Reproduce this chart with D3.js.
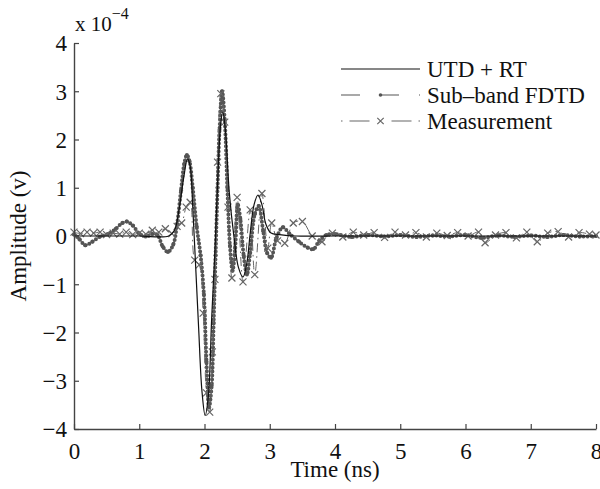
<!DOCTYPE html>
<html lang="en">
<head>
<meta charset="UTF-8">
<title>Amplitude vs time</title>
<script src="https://cdnjs.cloudflare.com/ajax/libs/d3/7.8.5/d3.min.js"></script>
<style>
*{margin:0;padding:0;box-sizing:border-box}
body{background:#fff;width:600px;height:489px;overflow:hidden}
svg{display:block}
</style>
</head>
<body>
<div id="chart"></div>
<script>
// values in units of 1e-4 V, time in ns
const utdT = [0,0.5,1.0,1.45,1.54,1.61,1.68,1.74,1.78,1.82,1.86,1.91,1.96,2.01,2.06,2.11,2.16,2.21,2.25,2.28,2.32,2.38,2.45,2.52,2.59,2.65,2.70,2.76,2.82,2.88,2.94,3.02,3.15,3.4,4,8];
const utdV = [0,0,0,0,0.12,0.55,1.2,1.6,1.45,0.6,-0.5,-1.9,-3.2,-3.72,-3.3,-1.7,-0.3,1.4,2.35,2.57,2.2,0.9,0,-0.65,-0.85,-0.55,0.05,0.65,0.85,0.65,0.25,0.06,0.03,0,0,0];

const fdtdT = [0,0.08,0.17,0.28,0.40,0.52,0.64,0.74,0.81,0.90,1.00,1.10,1.20,1.28,1.36,1.44,1.52,1.58,1.64,1.69,1.73,1.77,1.82,1.88,1.94,1.99,2.03,2.07,2.11,2.14,2.17,2.20,2.23,2.27,2.31,2.35,2.39,2.43,2.47,2.51,2.55,2.60,2.65,2.70,2.77,2.83,2.90,2.96,3.02,3.10,3.20,3.30,3.45,3.58,3.67,3.76,3.87,4.0,4.25,4.5,4.75,5.0,5.25,5.5,5.75,6.0,6.25,6.5,6.75,7.0,7.25,7.5,7.75,8.0];
const fdtdV = [0.03,-0.06,-0.19,-0.12,-0.01,0.04,0.15,0.27,0.30,0.22,0.05,-0.01,0.04,0.02,-0.22,-0.33,-0.18,0.25,0.95,1.5,1.68,1.55,1.0,0.2,-0.4,-1.2,-2.6,-3.55,-3.1,-1.8,-0.4,1.0,2.2,3.0,2.4,1.0,-0.2,-0.72,-0.25,0.65,0.35,-0.4,-0.8,-0.35,0.45,0.62,0.1,-0.35,-0.45,-0.05,0.18,0.05,-0.12,-0.24,-0.27,-0.1,0.02,0.04,-0.02,0.02,-0.01,0.02,-0.02,0.01,-0.01,0.02,-0.04,0.01,-0.02,0.01,-0.02,0.02,-0.01,0];

const measT = [0,0.1,0.2,0.3,0.4,0.5,0.6,0.7,0.8,0.9,1.0,1.1,1.2,1.3,1.4,1.5,1.58,1.65,1.72,1.78,1.85,1.92,1.98,2.03,2.08,2.12,2.16,2.2,2.25,2.31,2.36,2.42,2.5,2.59,2.7,2.77,2.88,2.97,3.03,3.12,3.23,3.36,3.5,3.65,3.8,3.96,4.12,4.28,4.44,4.6,4.76,4.92,5.08,5.24,5.4,5.56,5.72,5.88,6.04,6.2,6.3,6.46,6.62,6.78,6.94,7.1,7.26,7.42,7.58,7.74,7.9,8.0];
const measV = [0.08,0.05,0.08,0.06,0.08,0.03,0.06,0.04,0.08,0.03,0.06,0.04,0.12,0.08,0.15,0.05,0.2,0.27,0.6,0.7,-0.5,-0.6,-1.6,-3.25,-3.65,-2.4,-0.9,1.53,2.95,2.36,0.6,-0.87,0.8,-0.95,0.54,-0.8,0.88,-0.25,0.27,-0.1,-0.15,0.27,0.3,0,-0.12,0.06,-0.02,0.08,0.02,0.07,-0.03,0.08,0.02,0.07,-0.02,0.06,0.01,0.07,0,0.08,-0.14,0.02,0.07,-0.04,0.08,-0.12,0.06,0.09,-0.02,0.07,0.04,0.02];

const xTicks = [0,1,2,3,4,5,6,7,8];
const yTicks = [-4,-3,-2,-1,0,1,2,3,4];
const legendNames = ["UTD + RT","Sub\u2013band FDTD","Measurement"];

const FONT='"Liberation Serif"';
const W=600,H=489,mg={t:43,r:4,b:60,l:74};
const x=d3.scaleLinear().domain([0,8]).range([mg.l,W-mg.r]);
const y=d3.scaleLinear().domain([-4,4]).range([H-mg.b,mg.t]);
const svg=d3.select('#chart').append('svg').attr('width',W).attr('height',H);

const zip=(T,V)=>T.map((t,i)=>({t,v:V[i]}));
const utd=zip(utdT,utdV),fdtd=zip(fdtdT,fdtdV),meas=zip(measT,measV);
const line=d3.line().x(d=>x(d.t)).y(d=>y(d.v)).curve(d3.curveCatmullRom.alpha(0.5));

const g=svg.append('g');
// FDTD: dashed line with dense dot markers
g.append('path').attr('d',line(fdtd)).attr('fill','none').attr('stroke','#555').attr('stroke-width',1).attr('stroke-dasharray','10 6');
g.append('path').attr('d',line(fdtd)).attr('fill','none').attr('stroke','#555').attr('stroke-width',4)
  .attr('stroke-linecap','round').attr('stroke-dasharray','0 4');
g.selectAll('.fd').data(fdtd).join('circle').attr('cx',d=>x(d.t)).attr('cy',d=>y(d.v)).attr('r',2).attr('fill','#555');

// Measurement: dash-dot with x markers
g.append('path').attr('d',line(meas)).attr('fill','none').attr('stroke','#666').attr('stroke-width',1).attr('stroke-dasharray','9 4 1.5 4');
const cross=(sel,s)=>sel.append('path').attr('d',`M${-s},${-s}L${s},${s}M${-s},${s}L${s},${-s}`).attr('stroke','#666').attr('stroke-width',1.2).attr('fill','none');
g.selectAll('.ms').data(meas).join('g').attr('transform',d=>`translate(${x(d.t)},${y(d.v)})`).call(cross,3.5);

// UTD + RT: thin solid black
g.append('path').attr('d',line(utd)).attr('fill','none').attr('stroke','#111').attr('stroke-width',1.2);

// axes
const ax=svg.append('g').attr('transform',`translate(0,${H-mg.b})`)
  .call(d3.axisBottom(x).tickValues(xTicks).tickFormat(d3.format('d')).tickSizeInner(-5).tickSizeOuter(0).tickPadding(14));
const ay=svg.append('g').attr('transform',`translate(${mg.l},0)`)
  .call(d3.axisLeft(y).tickValues(yTicks).tickFormat(d3.format('d')).tickSizeInner(-5).tickSizeOuter(0).tickPadding(7));
[ax,ay].forEach(a=>{
  a.select('.domain').attr('stroke','#444').attr('stroke-width',1.4);
  a.selectAll('.tick line').attr('stroke','#444').attr('stroke-width',1.2);
  a.selectAll('.tick text').style('font-family',FONT).style('font-size','23px').attr('fill','#111')});
ay.selectAll('.tick text').attr('dy','0.34em');

const txt=(sel,size)=>sel.style('font-family',FONT).style('font-size',size+'px').attr('fill','#111');
svg.append('text').attr('x',(mg.l+W-mg.r)/2).attr('y',477).attr('text-anchor','middle').call(txt,23).text('Time (ns)');
svg.append('text').attr('transform',`translate(26,${y(0)}) rotate(-90)`).attr('text-anchor','middle').call(txt,23).text('Amplitude (v)');
const ex=svg.append('text').attr('x',75).attr('y',31).call(txt,21);
ex.append('tspan').text('x 10');
ex.append('tspan').attr('dy',-12).style('font-size','16px').text('\u22124');

// legend
const lg=svg.append('g');
const ly=[69,95,121],lx0=341,lx1=420;
lg.append('line').attr('x1',lx0).attr('x2',lx1).attr('y1',ly[0]).attr('y2',ly[0]).attr('stroke','#111').attr('stroke-width',1.2);
lg.append('line').attr('x1',lx0).attr('x2',lx1).attr('y1',ly[1]).attr('y2',ly[1]).attr('stroke','#555').attr('stroke-width',1.2).attr('stroke-dasharray','19 20');
lg.append('circle').attr('cx',(lx0+lx1)/2).attr('cy',ly[1]).attr('r',1.8).attr('fill','#555');
lg.append('line').attr('x1',lx0).attr('x2',lx1).attr('y1',ly[2]).attr('y2',ly[2]).attr('stroke','#666').attr('stroke-width',1.2).attr('stroke-dasharray','1.5 7 20 100');
lg.append('line').attr('x1',lx1).attr('x2',lx0).attr('y1',ly[2]).attr('y2',ly[2]).attr('stroke','#666').attr('stroke-width',1.2).attr('stroke-dasharray','1.5 7 20 100');
lg.append('g').attr('transform',`translate(${(lx0+lx1)/2},${ly[2]})`).call(cross,3.2);
legendNames.forEach((n,i)=>lg.append('text').attr('x',427).attr('y',ly[i]).attr('dy','0.33em').call(txt,23).text(n));
</script>
</body>
</html>
